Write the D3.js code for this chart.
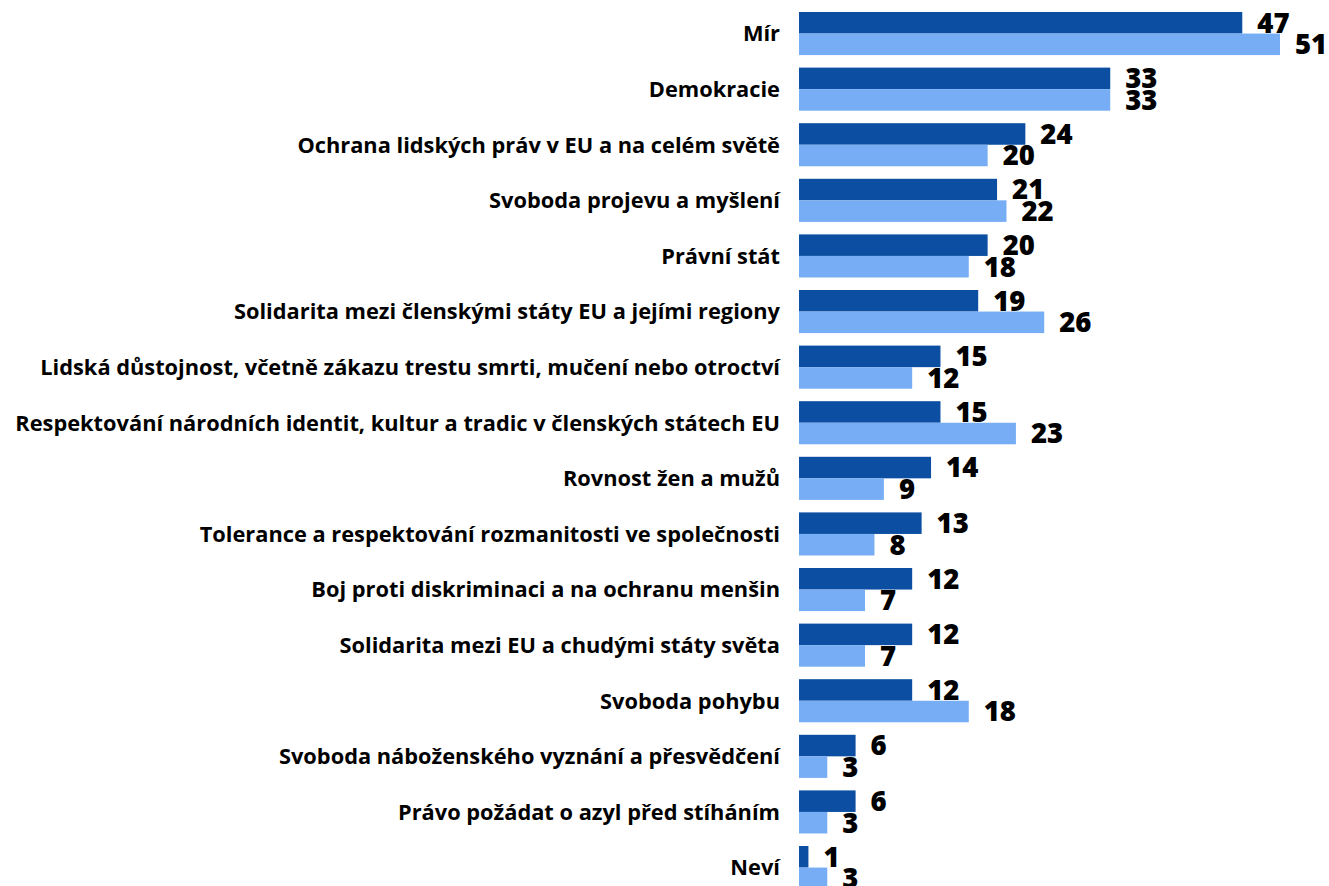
<!DOCTYPE html>
<html><head><meta charset="utf-8">
<script src="https://cdn.jsdelivr.net/npm/d3@7"></script>
<style>body{margin:0;background:#fff}svg{display:block}</style>
</head><body>
<svg id="c" width="1329" height="886"></svg>
<script>
const categories = ["Mír","Demokracie","Ochrana lidských práv v EU a na celém světě","Svoboda projevu a myšlení","Právní stát","Solidarita mezi členskými státy EU a jejími regiony","Lidská důstojnost, včetně zákazu trestu smrti, mučení nebo otroctví","Respektování národních identit, kultur a tradic v členských státech EU","Rovnost žen a mužů","Tolerance a respektování rozmanitosti ve společnosti","Boj proti diskriminaci a na ochranu menšin","Solidarita mezi EU a chudými státy světa","Svoboda pohybu","Svoboda náboženského vyznání a přesvědčení","Právo požádat o azyl před stíháním","Neví"];
const seriesA = [47,33,24,21,20,19,15,15,14,13,12,12,12,6,6,1];
const seriesB = [51,33,20,22,18,26,12,23,9,8,7,7,18,3,3,3];
const colors = ["#0b4ea2","#76adf4"];

const svg = d3.select("#c");
const x0 = 799;
const x = d3.scaleLinear().domain([0,51]).range([x0,1280]);
const pad = 0.225, step = 55.6;
const y = d3.scaleBand().domain(categories).range([12, 12+step*(16-pad)]).paddingInner(pad).paddingOuter(0).align(0);
const sub = d3.scaleBand().domain([0,1]).range([0, y.bandwidth()]);
const font = "'Open Sans', sans-serif";

const g = svg.append("g");
categories.forEach((c,i)=>{
  [seriesA[i],seriesB[i]].forEach((v,k)=>{
    const yy = y(c)+sub(k);
    g.append("rect").attr("x",x0).attr("y",yy).attr("width",x(v)-x0).attr("height",sub.bandwidth()).attr("fill",colors[k]);
    g.append("text").attr("x",x(v)+15).attr("y",yy+sub.bandwidth()/2).attr("dy","0.36em")
      .attr("font-family",font).attr("font-weight",800).attr("font-size",27.5).attr("fill","#000").text(v);
  });
  g.append("text").attr("x",780).attr("y",y(c)+y.bandwidth()/2).attr("dy","0.36em").attr("text-anchor","end")
    .attr("font-family",font).attr("font-weight",700).attr("font-size",21.8).attr("fill","#000").text(c);
});
</script>
</body></html>
